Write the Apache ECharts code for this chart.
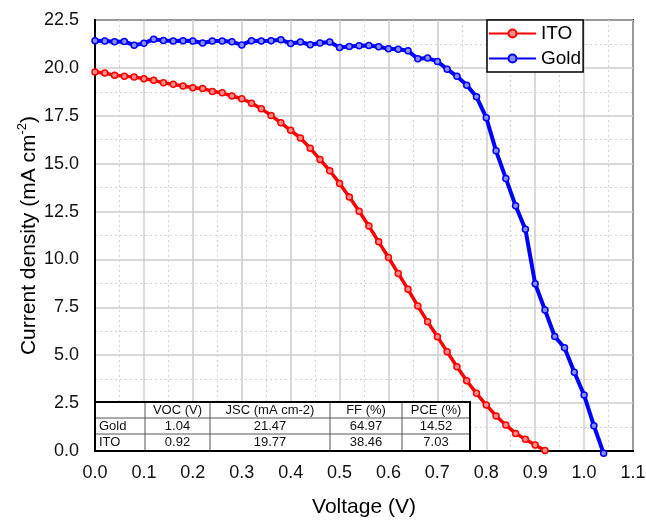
<!DOCTYPE html>
<html>
<head>
<meta charset="utf-8">
<script src="https://cdn.jsdelivr.net/npm/echarts@6/dist/echarts.min.js"></script>
<style>
  html, body { margin: 0; padding: 0; background: #fff; }
  #chart { width: 646px; height: 520px; }
</style>
</head>
<body>
<div id="chart"></div>
<script>
// J–V curves of the two devices (voltage in V, current density in mA cm^-2)
const voltageITO = [0.00, 0.02, 0.04, 0.06, 0.08, 0.10, 0.12, 0.14, 0.16, 0.18,
  0.20, 0.22, 0.24, 0.26, 0.28, 0.30, 0.32, 0.34, 0.36, 0.38,
  0.40, 0.42, 0.44, 0.46, 0.48, 0.50, 0.52, 0.54, 0.56, 0.58,
  0.60, 0.62, 0.64, 0.66, 0.68, 0.70, 0.72, 0.74, 0.76, 0.78,
  0.80, 0.82, 0.84, 0.86, 0.88, 0.90, 0.92];
const currentITO = [19.78, 19.73, 19.61, 19.57, 19.52, 19.43, 19.35, 19.22, 19.14, 19.05,
  18.96, 18.93, 18.77, 18.70, 18.53, 18.39, 18.16, 17.87, 17.52, 17.13,
  16.74, 16.34, 15.80, 15.22, 14.63, 13.97, 13.26, 12.52, 11.74, 10.92,
  10.10, 9.27, 8.44, 7.57, 6.75, 5.97, 5.18, 4.40, 3.67, 3.01,
  2.40, 1.83, 1.36, 0.92, 0.61, 0.31, 0.02];

const voltageGold = [0.00, 0.02, 0.04, 0.06, 0.08, 0.10, 0.12, 0.14, 0.16, 0.18,
  0.20, 0.22, 0.24, 0.26, 0.28, 0.30, 0.32, 0.34, 0.36, 0.38,
  0.40, 0.42, 0.44, 0.46, 0.48, 0.50, 0.52, 0.54, 0.56, 0.58,
  0.60, 0.62, 0.64, 0.66, 0.68, 0.70, 0.72, 0.74, 0.76, 0.78,
  0.80, 0.82, 0.84, 0.86, 0.88, 0.90, 0.92, 0.94, 0.96, 0.98,
  1.00, 1.02, 1.04];
const currentGold = [21.42, 21.40, 21.36, 21.38, 21.18, 21.28, 21.50, 21.43, 21.40, 21.42,
  21.40, 21.30, 21.40, 21.40, 21.36, 21.20, 21.42, 21.40, 21.42, 21.47,
  21.27, 21.35, 21.21, 21.30, 21.35, 21.07, 21.12, 21.15, 21.17, 21.10,
  21.00, 20.97, 20.89, 20.48, 20.51, 20.34, 19.93, 19.56, 19.10, 18.49,
  17.40, 15.67, 14.23, 12.80, 11.57, 8.73, 7.36, 5.98, 5.39, 4.11,
  2.92, 1.32, -0.12];

// Photovoltaic parameters table
const tableHeader = ['', 'VOC (V)', 'JSC (mA cm-2)', 'FF (%)', 'PCE (%)'];
const tableGold = ['Gold', '1.04', '21.47', '64.97', '14.52'];
const tableITO = ['ITO', '0.92', '19.77', '38.46', '7.03'];

const FONT = "'Liberation Sans', Arial, sans-serif";

function pairs(xs, ys) {
  return xs.map((x, i) => [x, ys[i]]);
}

// Table geometry (pixels)
const colEdges = [95, 145, 210, 330, 402, 470];
const rowEdges = [402, 418, 434, 451];

function buildTable() {
  const els = [];
  const left = colEdges[0], right = colEdges[colEdges.length - 1];
  const top = rowEdges[0], bottom = rowEdges[rowEdges.length - 1];
  els.push({
    type: 'rect', z: 50,
    shape: { x: left, y: top, width: right - left, height: bottom - top },
    style: { fill: '#fff', stroke: null }
  });
  for (let i = 1; i < colEdges.length - 1; i++) {
    els.push({ type: 'line', z: 51,
      shape: { x1: colEdges[i], y1: top, x2: colEdges[i], y2: bottom },
      style: { stroke: '#555', lineWidth: 1 } });
  }
  for (let j = 1; j < rowEdges.length - 1; j++) {
    els.push({ type: 'line', z: 51,
      shape: { x1: left, y1: rowEdges[j], x2: right, y2: rowEdges[j] },
      style: { stroke: '#555', lineWidth: 1 } });
  }
  els.push({
    type: 'rect', z: 52,
    shape: { x: left, y: top, width: right - left, height: bottom - top },
    style: { fill: null, stroke: '#000', lineWidth: 2 }
  });
  const rows = [tableHeader, tableGold, tableITO];
  rows.forEach((row, r) => {
    const cy = (rowEdges[r] + rowEdges[r + 1]) / 2;
    row.forEach((txt, c) => {
      if (!txt) return;
      const isHead = c === 0;
      els.push({
        type: 'text', z: 53,
        x: isHead ? colEdges[c] + 4 : (colEdges[c] + colEdges[c + 1]) / 2,
        y: cy,
        style: {
          text: txt, fill: '#111', fontSize: 13, fontFamily: FONT,
          align: isHead ? 'left' : 'center', verticalAlign: 'middle'
        }
      });
    });
  });
  return els;
}

const chart = echarts.init(document.getElementById('chart'), null, { renderer: 'canvas' });

chart.setOption({
  animation: false,
  backgroundColor: '#fff',
  grid: {
    left: 95, right: 13, top: 20, bottom: 69,
    containLabel: false, outerBoundsMode: 'none',
    show: true, borderColor: '#000', borderWidth: 2, backgroundColor: 'transparent'
  },
  legend: {
    orient: 'vertical',
    left: 487, top: 20,
    itemWidth: 47, itemHeight: 10, itemGap: 6,
    padding: [4, 2, 4, 1],
    backgroundColor: '#fff',
    borderColor: '#000', borderWidth: 1.5, borderRadius: 0,
    textStyle: { fontSize: 19, fontFamily: FONT, color: '#000' },
    data: ['ITO', 'Gold']
  },
  xAxis: {
    type: 'value', min: 0, max: 1.1, interval: 0.1,
    name: 'Voltage (V)', nameLocation: 'middle', nameGap: 46,
    nameMoveOverlap: false,
    nameTextStyle: { fontSize: 21, fontFamily: FONT, color: '#000' },
    axisLine: { show: true, onZero: false, lineStyle: { color: '#000', width: 2 } },
    axisTick: { show: false },
    axisLabel: { fontSize: 18, fontFamily: FONT, color: '#111', margin: 13,
      formatter: v => v.toFixed(1) },
    splitLine: { show: true, lineStyle: { color: '#cccccc', width: 1.5 } },
    minorTick: { show: false, splitNumber: 2 },
    minorSplitLine: { show: true, lineStyle: { color: '#d2d2d2', width: 1, type: [2, 3] } }
  },
  yAxis: {
    type: 'value', min: 0, max: 22.5, interval: 2.5,
    name: '{a|Current density (mA cm}{s|-2}{a|)}',
    nameLocation: 'middle', nameGap: 53,
    nameMoveOverlap: false,
    nameTextStyle: {
      fontSize: 21, fontFamily: FONT, color: '#000',
      rich: {
        a: { fontSize: 21, fontFamily: FONT, color: '#000', lineHeight: 26 },
        s: { fontSize: 13, fontFamily: FONT, color: '#000', verticalAlign: 'top', lineHeight: 26, padding: [0, 0, 10, 0] }
      }
    },
    axisLine: { show: true, onZero: false, lineStyle: { color: '#000', width: 2 } },
    axisTick: { show: false },
    axisLabel: { fontSize: 18, fontFamily: FONT, color: '#111', margin: 16,
      formatter: v => v.toFixed(1) },
    splitLine: { show: true, lineStyle: { color: '#cccccc', width: 1.5 } },
    minorTick: { show: false, splitNumber: 2 },
    minorSplitLine: { show: true, lineStyle: { color: '#d2d2d2', width: 1, type: [2, 3] } }
  },
  series: [
    {
      name: 'ITO', type: 'line', clip: false,
      data: pairs(voltageITO, currentITO),
      symbol: 'circle', symbolSize: 6,
      lineStyle: { color: '#ff0000', width: 3.5 },
      itemStyle: { color: '#ff8c8c', borderColor: '#ff0000', borderWidth: 1.5 },
      z: 3
    },
    {
      name: 'Gold', type: 'line', clip: false,
      data: pairs(voltageGold, currentGold),
      symbol: 'circle', symbolSize: 6,
      lineStyle: { color: '#0000ff', width: 4 },
      itemStyle: { color: '#8c8cff', borderColor: '#0000ff', borderWidth: 1.5 },
      z: 3
    }
  ],
  graphic: buildTable()
});
</script>
</body>
</html>
